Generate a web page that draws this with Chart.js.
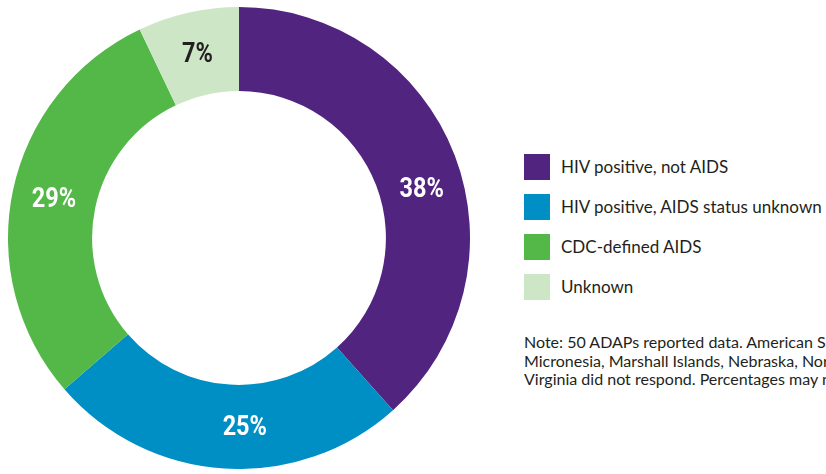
<!DOCTYPE html>
<html>
<head>
<meta charset="utf-8">
<script src="https://cdn.jsdelivr.net/npm/chart.js@4"></script>
<style>
  html, body { margin:0; padding:0; background:#ffffff; width:826px; height:474px; overflow:hidden; }
  #wrap { position:absolute; left:8px; top:7px; width:462px; height:462px; }
  #legend { position:absolute; left:524px; top:154px; font-family: Lato, 'Open Sans', sans-serif; color:#231f20; }
  .li { position:absolute; left:0; height:26px; white-space:nowrap; }
  .sw { position:absolute; left:0; top:0; width:26px; height:26px; }
  .lt { position:absolute; left:37px; top:0; line-height:26px; }
  #note { position:absolute; left:524px; top:333px; font-family: Lato, 'Open Sans', sans-serif; color:#231f20; white-space:nowrap; line-height:18.5px; }
  #probe { position:absolute; left:0; top:0; visibility:hidden; white-space:nowrap; font-family: Lato, 'Open Sans', sans-serif; font-size:100px; }
</style>
</head>
<body>
<div id="wrap"><canvas id="c" width="462" height="462"></canvas></div>
<div id="legend"></div>
<div id="note"></div>
<span id="probe"></span>
<script>
const categories = ["HIV positive, not AIDS", "HIV positive, AIDS status unknown", "CDC-defined AIDS", "Unknown"];
const values = [38, 25, 29, 7];
const valueLabels = ["38%", "25%", "29%", "7%"];
const noteLines = [
  "Note: 50 ADAPs reported data. American Samoa, Federated States of",
  "Micronesia, Marshall Islands, Nebraska, Northern Mariana Islands, Palau, and West",
  "Virginia did not respond. Percentages may not add to 100 due to rounding."
];

// styling
const colors = ["#51247f", "#008fc5", "#53b848", "#cde6c5"];
const labelColors = ["#ffffff", "#ffffff", "#ffffff", "#231f20"];
const labelAngleShiftDeg = [6, -5.4, 0, 0];
const LABEL_FONT = "bold 28px Roboto, 'Open Sans', sans-serif";
const LABEL_XSCALE = 0.84;

const labelPlugin = {
  id: 'sliceLabels',
  afterDatasetsDraw(chart) {
    const ctx = chart.ctx;
    const meta = chart.getDatasetMeta(0);
    ctx.font = LABEL_FONT;
    ctx.textAlign = 'center';
    ctx.textBaseline = 'middle';
    meta.data.forEach((arc, i) => {
      const p = arc.getProps(['x','y','startAngle','endAngle','innerRadius','outerRadius'], true);
      const a = (p.startAngle + p.endAngle) / 2 + labelAngleShiftDeg[i] * Math.PI / 180;
      const r = (p.innerRadius + p.outerRadius) / 2;
      ctx.save();
      ctx.translate(p.x + Math.cos(a) * r, p.y + Math.sin(a) * r + 1);
      ctx.scale(LABEL_XSCALE, 1);
      ctx.fillStyle = labelColors[i];
      ctx.fillText(valueLabels[i], 0, 0);
      ctx.restore();
    });
  }
};

const chart = new Chart(document.getElementById('c'), {
  type: 'doughnut',
  data: {
    labels: categories,
    datasets: [{ data: values, backgroundColor: colors, borderWidth: 0, hoverOffset: 0 }]
  },
  options: {
    responsive: false,
    animation: false,
    cutout: '63.6%',
    layout: { padding: 0 },
    plugins: { legend: { display: false }, tooltip: { enabled: false } },
    events: []
  },
  plugins: [labelPlugin]
});

// fit font sizes to measured widths in the reference
const probe = document.getElementById('probe');
function fitSize(text, targetWidth) {
  probe.textContent = text;
  return 100 * targetWidth / probe.getBoundingClientRect().width;
}
const legendSize = fitSize(categories[1], 261);
const noteSize = fitSize("Note: 50 ADAPs reported data. American S", 302);

const legend = document.getElementById('legend');
legend.style.fontSize = legendSize + 'px';
categories.forEach((c, i) => {
  const li = document.createElement('div');
  li.className = 'li';
  li.style.top = (i * 40) + 'px';
  li.innerHTML = '<div class="sw" style="background:' + colors[i] + '"></div><div class="lt"></div>';
  li.querySelector('.lt').textContent = c;
  legend.appendChild(li);
});
const note = document.getElementById('note');
note.style.fontSize = noteSize + 'px';
noteLines.forEach(l => { const d = document.createElement('div'); d.textContent = l; note.appendChild(d); });
</script>
</body>
</html>
